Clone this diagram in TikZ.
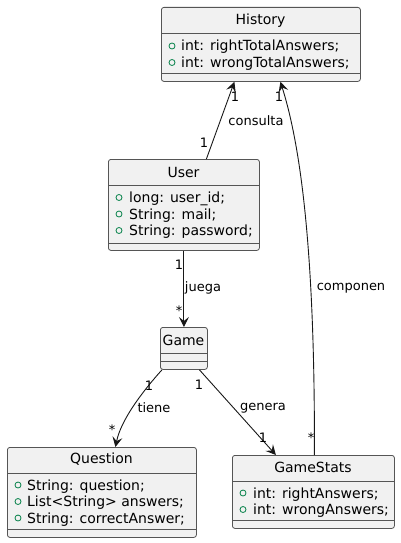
\documentclass[tikz,border=0pt]{standalone}
\usepackage{fontspec}
\setmainfont{DejaVu Sans}
\usetikzlibrary{arrows.meta,calc}
\definecolor{boxfill}{HTML}{F1F1F1}
\definecolor{boxline}{HTML}{555555}
\definecolor{linecol}{HTML}{181818}
\definecolor{visgreen}{HTML}{038048}
\tikzset{
  classbox/.style={draw=boxline, line width=0.8pt, fill=boxfill, rounded corners=2.5pt, anchor=north west, inner sep=0pt},
  divider/.style={draw=boxline, line width=0.8pt},
  ttl/.style={font=\fontsize{14}{16}\selectfont, anchor=base, inner sep=0pt, text=black},
  attr/.style={font=\fontsize{14}{16}\selectfont, anchor=base west, inner sep=0pt, text=black},
  vis/.style={draw=visgreen, line width=0.8pt, circle, minimum size=6pt, inner sep=0pt},
  conn/.style={draw=linecol, line width=0.9pt, -{Stealth[length=10pt,width=10pt,inset=4pt]}},
  plainconn/.style={draw=linecol, line width=0.9pt},
  lbl/.style={font=\fontsize{13}{15}\selectfont, inner sep=0pt, text=black},
}
\begin{document}
\begin{tikzpicture}[x=1pt,y=-1pt]
\useasboundingbox (0,0) rectangle (400,543);

% History
\node[classbox, minimum width=199pt, minimum height=74pt] (history) at (161,7) {};
\draw[divider] (161,33) -- (360,33);
\draw[divider] (161,73) -- (360,73);
\node[ttl] (historyT) at (260.5,25) {History};
\node[vis] (hv1) at (172,46) {};
\node[attr] (ha1) at (181,51) {int: rightTotalAnswers;};
\node[vis] (hv2) at (172,62.5) {};
\node[attr] (ha2) at (181,67.5) {int: wrongTotalAnswers;};

% User
\node[classbox, minimum width=151pt, minimum height=91pt] (user) at (108,159) {};
\draw[divider] (108,185) -- (259,185);
\draw[divider] (108,243) -- (259,243);
\node[ttl] (userT) at (183.5,177) {User};
\node[vis] (uv1) at (119,197.5) {};
\node[attr] (ua1) at (129,202.5) {long: user\_id;};
\node[vis] (uv2) at (119,214) {};
\node[attr] (ua2) at (129,219) {String: mail;};
\node[vis] (uv3) at (119,230.5) {};
\node[attr] (ua3) at (129,235.5) {String: password;};

% Game
\node[classbox, minimum width=47pt, minimum height=42pt] (game) at (160,327) {};
\draw[divider] (160,353) -- (207,353);
\draw[divider] (160,361) -- (207,361);
\node[ttl] (gameT) at (183.5,345) {Game};

% Question
\node[classbox, minimum width=189pt, minimum height=90pt] (question) at (7,447) {};
\draw[divider] (7,473) -- (196,473);
\draw[divider] (7,529) -- (196,529);
\node[ttl] (questionT) at (101.5,463) {Question};
\node[vis] (qv1) at (18,485) {};
\node[attr] (qa1) at (27,490) {String: question;};
\node[vis] (qv2) at (18,501.5) {};
\node[attr] (qa2) at (27,506.5) {List<String> answers;};
\node[vis] (qv3) at (18,518) {};
\node[attr] (qa3) at (27,523) {String: correctAnswer;};

% GameStats
\node[classbox, minimum width=162pt, minimum height=73pt] (gamestats) at (232,455) {};
\draw[divider] (232,481) -- (394,481);
\draw[divider] (232,520) -- (394,520);
\node[ttl] (gamestatsT) at (313,472) {GameStats};
\node[vis] (gv1) at (243,493) {};
\node[attr] (ga1) at (253,498) {int: rightAnswers;};
\node[vis] (gv2) at (243,509.5) {};
\node[attr] (ga2) at (253,514.5) {int: wrongAnswers;};

% connectors
\draw[conn] ([xshift=22.5pt]user.north) -- ([xshift=-26.5pt]history.south);
\draw[conn] ([xshift=1pt]gamestats.north) .. controls (315,260) and (302,150) .. ([xshift=19.5pt]history.south);
\draw[conn] (user.south) -- (game.north);
\draw[conn] ([xshift=2pt]game.south west) .. controls (142,392) and (121,420) .. ([xshift=13.5pt]question.north);
\draw[conn] ([xshift=15.5pt]game.south) -- ([xshift=-37.5pt]gamestats.north);

% labels
\node[lbl] (l1) at (256,121) {consulta};
\node[lbl] (m1) at (235,97) {1};
\node[lbl] (m2) at (204,143) {1};
\node[lbl] (l2) at (351,288) {componen};
\node[lbl] (m3) at (279,97) {1};
\node[lbl] (m4) at (311,438) {*};
\node[lbl] (l3) at (203,288) {juega};
\node[lbl] (m5) at (179,265) {1};
\node[lbl] (m6) at (179,311) {*};
\node[lbl] (l4) at (154,408) {tiene};
\node[lbl] (m7) at (149,386) {1};
\node[lbl] (m8) at (112,430) {*};
\node[lbl] (l5) at (263,408) {genera};
\node[lbl] (m9) at (199,385) {1};
\node[lbl] (m10) at (263,438) {1};
\end{tikzpicture}
\end{document}
